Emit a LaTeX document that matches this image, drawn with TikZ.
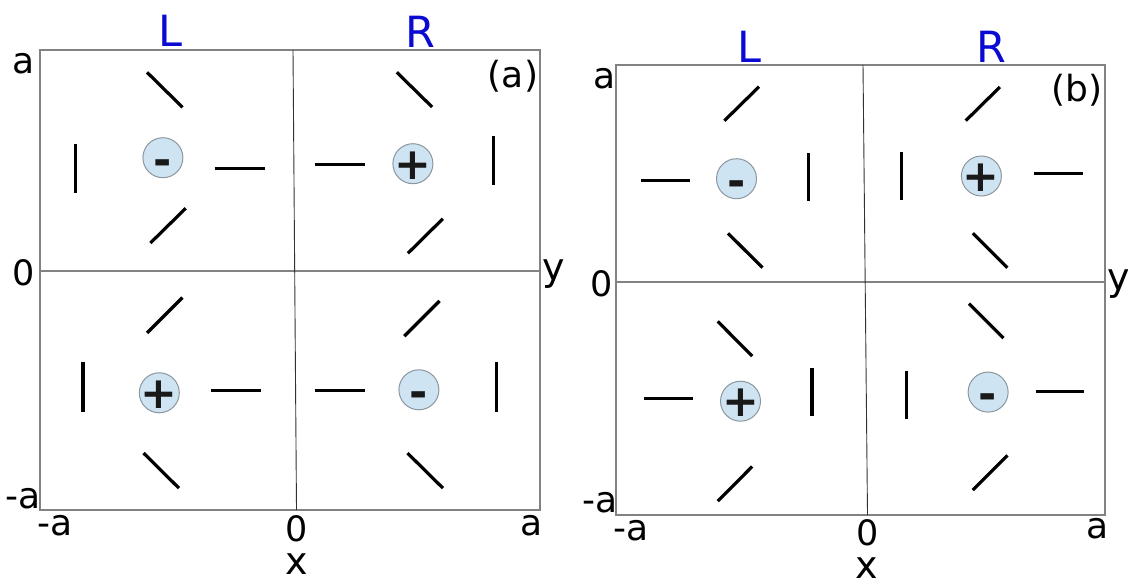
\documentclass[tikz,border=0pt]{standalone}
\usepackage{fontspec}
\setmainfont{DejaVu Sans}
\definecolor{framegray}{RGB}{130,130,130}
\definecolor{divgray}{RGB}{50,50,50}
\definecolor{ringgray}{RGB}{140,150,158}
\definecolor{ionblue}{RGB}{207,228,242}
\definecolor{signblack}{RGB}{25,25,25}
\definecolor{handblue}{RGB}{10,10,210}
\begin{document}
\begin{tikzpicture}[x=0.5pt,y=-0.5pt,
  frame/.style={draw=framegray, line width=0.6pt},
  divider/.style={draw=divgray, line width=0.45pt},
  bar/.style={draw=black, line width=1.6pt},
  ion/.style={circle, draw=ringgray, fill=ionblue, line width=0.5pt, minimum size=20pt, inner sep=0pt},
  sign/.style={font=\fontsize{22}{22}\selectfont\bfseries, text=signblack, inner sep=0pt, text height=15.75pt, text depth=0pt},
  minus/.style={sign, yshift=-0.9pt},
  hand/.style={font=\fontsize{21.5}{21.5}\selectfont, text=handblue, inner sep=0pt},
  lab/.style={font=\fontsize{18}{18}\selectfont, inner sep=0pt},
  zlab/.style={font=\fontsize{17.5}{17.5}\selectfont, inner sep=0pt},
  axl/.style={font=\fontsize{19}{19}\selectfont, inner sep=0pt}]
\useasboundingbox (0,0) rectangle (1128,583);

% ---------------- panel (a) ----------------
\draw[frame] (40,50) rectangle (540,510);
\draw[frame] (40,271) -- (540,271);
\draw[divider] (293,50) -- (296.5,510);

% upper left
\draw[bar] (147,72.3) -- (182.5,107.3);
\draw[bar] (75.4,143.7) -- (75.4,192.7);
\draw[bar] (214.6,168.3) -- (264.6,168.3);
\draw[bar] (150.4,243) -- (185.7,208.3);
\node[ion] (aTL) at (162.9,157.7) {};
\node[minus] (aTLs) at (aTL) {-};
% upper right
\draw[bar] (396.8,72.3) -- (432.1,107);
\draw[bar] (314.6,164.3) -- (364.6,164.3);
\draw[bar] (493.2,136.3) -- (493.2,185.3);
\draw[bar] (407.9,253.3) -- (442.9,218.7);
\node[ion] (aTR) at (412.9,163.7) {};
\node[sign] (aTRs) at (aTR) {+};
% lower left
\draw[bar] (147.1,332.9) -- (182.5,297.5);
\draw[bar] (82.9,362.2) -- (82.9,412.3);
\draw[bar] (211.4,390.4) -- (261.1,390.4);
\draw[bar] (143.6,453.1) -- (178.9,488.1);
\node[ion] (aBL) at (159.3,392.8) {};
\node[sign] (aBLs) at (aBL) {+};
% lower right
\draw[bar] (404.3,336.2) -- (439.6,300.9);
\draw[bar] (314.6,390.4) -- (364.6,390.4);
\draw[bar] (496.4,362.2) -- (496.4,412.3);
\draw[bar] (407.5,453.1) -- (442.9,488.1);
\node[ion] (aBR) at (418.9,389.8) {};
\node[minus] (aBRs) at (aBR) {-};

% labels (a)
\node[hand] (aL) at (170,30.8) {L};
\node[hand] (aR) at (420.5,31.7) {R};
\node[lab] (aTag) at (513,75.8) {(a)};
\node[lab] (aYa) at (23.2,63.3) {a};
\node[zlab] (aY0) at (24.1,273) {0};
\node[lab] (aYm) at (23.2,498.5) {-a};
\node[lab] (aXm) at (55.4,525.8) {-a};
\node[zlab] (aX0) at (297,528.8) {0};
\node[lab] (aXa) at (532,526) {a};
\node[axl] (aX) at (296.4,564) {x};
\node[axl] (aY) at (553.5,274) {y};

% ---------------- panel (b) ----------------
\draw[frame] (616,65) rectangle (1105,515);
\draw[frame] (616,282) -- (1105,282);
\draw[divider] (863,65) -- (867.5,515);

% upper left
\draw[bar] (724.4,120.7) -- (759,86.7);
\draw[bar] (641.2,180.7) -- (689.6,180.7);
\draw[bar] (808.4,153.3) -- (808.4,201.3);
\draw[bar] (728,233.3) -- (762.5,267.7);
\node[ion] (bTL) at (736.5,178.7) {};
\node[minus] (bTLs) at (bTL) {-};
% upper right
\draw[bar] (965.7,120.7) -- (999.9,87);
\draw[bar] (901.7,152) -- (901.7,200);
\draw[bar] (1034,173.3) -- (1082.8,173.3);
\draw[bar] (972.8,233.3) -- (1007.4,267.7);
\node[ion] (bTR) at (981.4,176) {};
\node[sign] (bTRs) at (bTR) {+};
% lower left
\draw[bar] (717.7,321.4) -- (752.2,356.1);
\draw[bar] (644,398.5) -- (693.1,398.5);
\draw[bar] (812,367.5) -- (812,416.4);
\draw[bar] (717.7,501.2) -- (752.2,466.5);
\node[ion] (bBL) at (740.5,401.2) {};
\node[sign] (bBLs) at (bBL) {+};
% lower right
\draw[bar] (968.9,303.6) -- (1003.5,338.2);
\draw[bar] (906.3,370.9) -- (906.3,419.4);
\draw[bar] (1035.5,391.4) -- (1084.2,391.4);
\draw[bar] (972.8,490.1) -- (1007.4,455.4);
\node[ion] (bBR) at (988.1,392.1) {};
\node[minus] (bBRs) at (bBR) {-};

% labels (b)
\node[hand] (bL) at (749,46.7) {L};
\node[hand] (bR) at (991,46.7) {R};
\node[lab] (bTag) at (1077,90) {(b)};
\node[lab] (bYa) at (604.5,78.3) {a};
\node[zlab] (bY0) at (601.3,283.3) {0};
\node[lab] (bYm) at (600,503) {-a};
\node[lab] (bXm) at (631,530.8) {-a};
\node[zlab] (bX0) at (867.2,533) {0};
\node[lab] (bXa) at (1097.8,529) {a};
\node[axl] (bX) at (867,568) {x};
\node[axl] (bY) at (1119,284) {y};
\end{tikzpicture}
\end{document}
